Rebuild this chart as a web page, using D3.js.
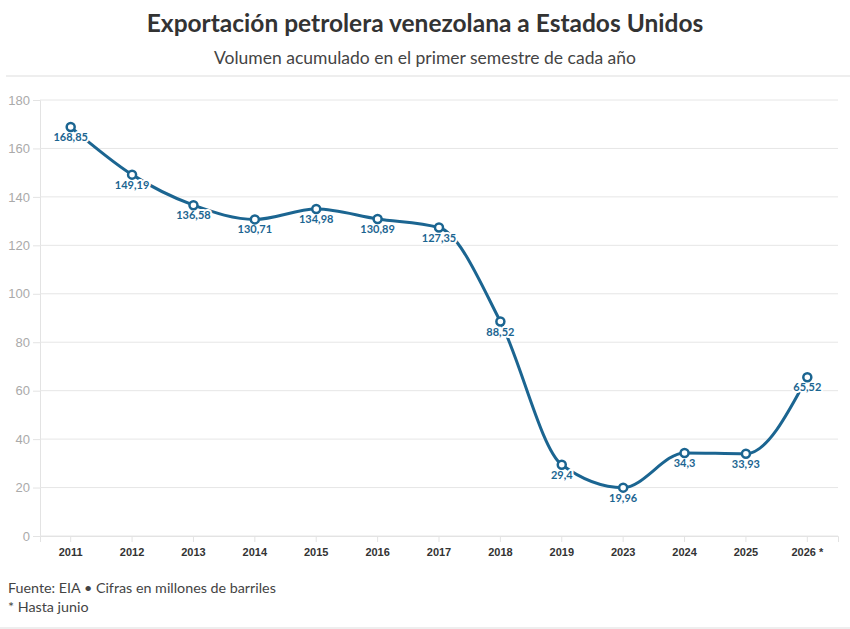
<!DOCTYPE html>
<html>
<head>
<meta charset="utf-8">
<script src="https://cdn.jsdelivr.net/npm/d3@7"></script>
<style>
  body { margin: 0; background: #fff; }
  svg { font-family: "Source Sans Pro", Lato, "Noto Sans", sans-serif; }
</style>
</head>
<body>
<div id="chart"></div>
<script>
// Venezuelan oil exports to the US, first half of each year
var years = ["2011", "2012", "2013", "2014", "2015", "2016", "2017", "2018", "2019", "2023", "2024", "2025", "2026 *"];
var volumes = [168.85, 149.19, 136.58, 130.71, 134.98, 130.89, 127.35, 88.52, 29.4, 19.96, 34.3, 33.93, 65.52];
var y_ticks = [0, 20, 40, 60, 80, 100, 120, 140, 160, 180];

var width = 850, height = 629;
var margin = { top: 100, right: 12, bottom: 93, left: 40 };
var line_color = "#1b6591";

var svg = d3.select("#chart").append("svg")
	.attr("width", width)
	.attr("height", height);

// title block
svg.append("text")
	.attr("x", width / 2).attr("y", 32)
	.attr("text-anchor", "middle")
	.attr("font-size", 24.5).attr("font-weight", 700)
	.attr("fill", "#333")
	.text("Exportación petrolera venezolana a Estados Unidos");

svg.append("text")
	.attr("x", width / 2).attr("y", 64)
	.attr("text-anchor", "middle")
	.attr("font-size", 17.5)
	.attr("fill", "#444")
	.text("Volumen acumulado en el primer semestre de cada año");

svg.append("line")
	.attr("x1", 6).attr("x2", width)
	.attr("y1", 76).attr("y2", 76)
	.attr("stroke", "#ddd");

var data = years.map(function(y, i) { return { year: y, value: volumes[i] }; });

var x = d3.scaleBand()
	.domain(years)
	.range([margin.left, width - margin.right])
	.padding(0);

var y = d3.scaleLinear()
	.domain([0, 180])
	.range([height - margin.bottom, margin.top]);

// y grid + axis
var y_axis = svg.append("g")
	.attr("transform", "translate(" + margin.left + ",0)")
	.call(d3.axisLeft(y).tickValues(y_ticks).tickSize(7).tickPadding(3));
y_axis.select(".domain").attr("stroke", "#e3e3e3");
y_axis.selectAll(".tick line").attr("stroke", "#e3e3e3");
y_axis.selectAll(".tick text")
	.attr("fill", "#aaa").attr("font-size", 13)
	.attr("font-family", "inherit");

svg.append("g")
	.selectAll("line")
	.data(y_ticks)
	.enter().append("line")
	.attr("x1", margin.left).attr("x2", width - margin.right)
	.attr("y1", function(d) { return y(d); })
	.attr("y2", function(d) { return y(d); })
	.attr("stroke", "#e6e6e6");

// x axis
var x_axis = svg.append("g")
	.attr("transform", "translate(0," + (height - margin.bottom) + ")")
	.call(d3.axisBottom(x).tickSize(6).tickPadding(6));
x_axis.select(".domain").attr("stroke", "#e3e3e3");
x_axis.selectAll(".tick line").attr("stroke", "#e3e3e3");
x_axis.selectAll(".tick text")
	.attr("fill", "#333").attr("font-size", 11).attr("font-weight", 700)
	.attr("font-family", "inherit");

function cx(d) { return x(d.year) + x.bandwidth() / 2; }

var line = d3.line()
	.x(cx)
	.y(function(d) { return y(d.value); })
	.curve(d3.curveMonotoneX);

svg.append("path")
	.datum(data)
	.attr("d", line)
	.attr("fill", "none")
	.attr("stroke", line_color)
	.attr("stroke-width", 3);

// value labels with white halo (cut through the line)
var fmt = function(v) { return String(v).replace(".", ","); };

svg.append("g")
	.selectAll("text")
	.data(data)
	.enter().append("text")
	.attr("x", cx)
	.attr("y", function(d) { return y(d.value) + 14; })
	.attr("text-anchor", "middle")
	.attr("font-size", 11).attr("font-weight", 700)
	.attr("fill", line_color)
	.attr("stroke", "#fff").attr("stroke-width", 4)
	.attr("stroke-linejoin", "round")
	.attr("paint-order", "stroke")
	.text(function(d) { return fmt(d.value); });

svg.append("g")
	.selectAll("circle")
	.data(data)
	.enter().append("circle")
	.attr("cx", cx)
	.attr("cy", function(d) { return y(d.value); })
	.attr("r", 4)
	.attr("fill", "#fff")
	.attr("stroke", line_color)
	.attr("stroke-width", 2.5);

// footer
svg.append("text")
	.attr("x", 8).attr("y", 593)
	.attr("font-size", 14.3).attr("fill", "#444")
	.text("Fuente: EIA • Cifras en millones de barriles");
svg.append("text")
	.attr("x", 8).attr("y", 612)
	.attr("font-size", 14.3).attr("fill", "#444")
	.text("* Hasta junio");

svg.append("line")
	.attr("x1", 0).attr("x2", width)
	.attr("y1", 628).attr("y2", 628)
	.attr("stroke", "#ddd");
</script>
</body>
</html>
